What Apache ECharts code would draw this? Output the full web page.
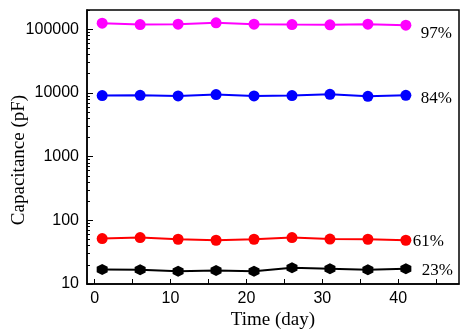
<!DOCTYPE html>
<html>
<head>
<meta charset="utf-8">
<script src="https://cdn.jsdelivr.net/npm/echarts@6/dist/echarts.min.js"></script>
<style>
  html, body { margin: 0; padding: 0; background: #fff; }
  #chart { width: 476px; height: 335px; }
</style>
</head>
<body>
<div id="chart"></div>
<script>
// 时间 (天)
const days = [1, 6, 11, 16, 21, 26, 31, 36, 41];

// 四条曲线的电容值 (pF)
const cap97 = [124000, 118000, 120000, 126000, 120000, 118000, 117000, 120000, 115500];
const cap84 = [9070, 9170, 8970, 9410, 8970, 9070, 9510, 8840, 9170];
const cap61 = [51.6, 53.5, 50.4, 48.6, 50.4, 53.5, 50.8, 50.4, 48.6];
const cap23 = [16.9, 16.8, 15.8, 16.3, 15.8, 18.0, 17.4, 16.8, 17.4];

const retention = ['97%', '84%', '61%', '23%'];

const xTicks = [0, 5, 10, 15, 20, 25, 30, 35, 40, 45];
const xLabels = [0, 10, 20, 30, 40];
const yLabels = [10, 100, 1000, 10000, 100000];
// 对数轴的小刻度 2..9 × 10^n
const yMinor = [20, 30, 40, 50, 60, 70, 80, 90,
  200, 300, 400, 500, 600, 700, 800, 900,
  2000, 3000, 4000, 5000, 6000, 7000, 8000, 9000,
  20000, 30000, 40000, 50000, 60000, 70000, 80000, 90000,
  200000];

const chart = echarts.init(document.getElementById('chart'));

const serif = '"Liberation Serif", "Times New Roman", serif';
const sans = '"Liberation Sans", Arial, sans-serif';

function makeSeries(values, color, symbol, label, dx, dy) {
  return {
    type: 'line',
    data: days.map((d, i) => [d, values[i]]),
    symbol: symbol,
    symbolSize: 11,
    showSymbol: true,
    lineStyle: { color: color, width: 2 },
    itemStyle: { color: color },
    emphasis: { disabled: true },
    endLabel: {
      show: true,
      formatter: label,
      color: '#000',
      fontFamily: serif,
      fontSize: 17,
      distance: dx,
      offset: [0, dy]
    }
  };
}

const hexagon = 'path://M0,-1 L0.87,-0.5 L0.87,0.5 L0,1 L-0.87,0.5 L-0.87,-0.5 Z';

chart.setOption({
  animation: false,
  grid: {
    left: 87, right: 17, top: 10, bottom: 51,
    outerBoundsMode: 'none',
    show: true, borderColor: '#000', borderWidth: 1.5
  },
  xAxis: {
    type: 'value',
    min: -1, max: 48,
    name: 'Time (day)',
    nameLocation: 'middle',
    nameGap: 27,
    nameMoveOverlap: false,
    nameTextStyle: { fontFamily: serif, fontSize: 19, color: '#000' },
    axisLine: { show: true, onZero: false, lineStyle: { color: '#000', width: 1.5 } },
    axisTick: { show: true, inside: true, length: 5, customValues: xTicks, lineStyle: { color: '#000', width: 1 } },
    axisLabel: { customValues: xLabels, fontFamily: sans, fontSize: 16, color: '#000', margin: 7 },
    splitLine: { show: false }
  },
  yAxis: [{
    type: 'log',
    min: 10, max: 200000,
    name: 'Capacitance (pF)',
    nameLocation: 'middle',
    nameGap: 58,
    nameMoveOverlap: false,
    nameTextStyle: { fontFamily: serif, fontSize: 19, color: '#000', padding: [0, 26, 0, 0] },
    axisLine: { show: true, onZero: false, lineStyle: { color: '#000', width: 1.5 } },
    axisTick: { show: true, inside: true, length: 6, customValues: yLabels, lineStyle: { color: '#000', width: 1 } },
    axisLabel: {
      customValues: yLabels, formatter: v => String(v),
      fontFamily: sans, fontSize: 16, color: '#000', margin: 8
    },
    splitLine: { show: false }
  }, {
    type: 'log',
    min: 10, max: 200000,
    position: 'left',
    axisLine: { show: true, onZero: false, lineStyle: { color: 'rgba(0,0,0,0)' } },
    axisTick: { show: true, inside: true, length: 3, customValues: yMinor, lineStyle: { color: '#000', width: 1 } },
    axisLabel: { show: false },
    splitLine: { show: false }
  }],
  series: [
    makeSeries(cap97, '#ff00ff', 'circle', retention[0], 15, 8),
    makeSeries(cap84, '#0000ff', 'circle', retention[1], 15, 3),
    makeSeries(cap61, '#ff0000', 'circle', retention[2], 7, 1),
    makeSeries(cap23, '#000000', hexagon, retention[3], 16, 2)
  ]
});
</script>
</body>
</html>
